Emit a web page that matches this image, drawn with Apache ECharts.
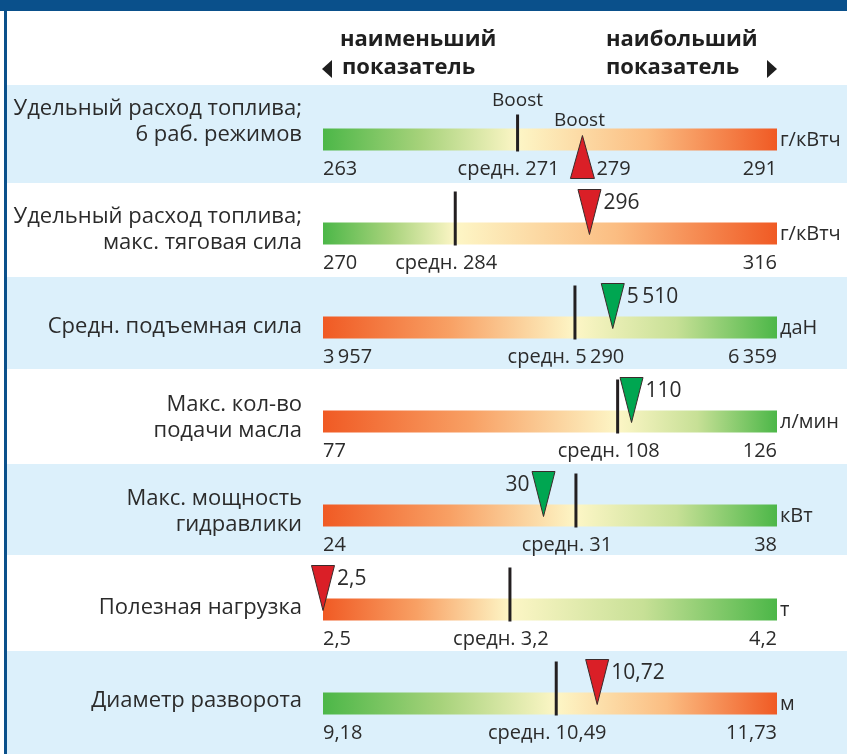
<!DOCTYPE html>
<html><head><meta charset="utf-8">
<script src="https://cdn.jsdelivr.net/npm/echarts@6/dist/echarts.min.js"></script>
<style>html,body{margin:0;padding:0;background:#fff}#c{width:847px;height:754px}</style>
</head><body><div id="c"></div>
<script>
// ---- data ----
const categories = ["Удельный расход топлива;\n6 раб. режимов", "Удельный расход топлива;\nмакс. тяговая сила", "Средн. подъемная сила", "Макс. кол-во\nподачи масла", "Макс. мощность\nгидравлики", "Полезная нагрузка", "Диаметр разворота"];
const units = ["г/кВтч", "г/кВтч", "даН", "л/мин", "кВт", "т", "м"];
const minVals = [263, 270, 3957, 77, 24, 2.5, 9.18];
const maxVals = [291, 316, 6359, 126, 38, 4.2, 11.73];
const avgVals = [271, 284, 5290, 108, 31, 3.2, 10.49];          // printed average
const avgLinePos = [275, 283.4, 5290, 108.8, 31.8, 3.2, 10.49];  // where the average line sits
const markerVals = [279, 296, 5510, 110, 30, 2.5, 10.72];        // printed model value
const markerPos = [279, 297, 5490, 110.3, 30.8, 2.5, 10.72];     // where the triangle sits
const decimals = [0, 0, 0, 0, 0, 1, 2];
const greenLeft = [true, true, false, false, false, false, true];
const markerGood = [false, false, true, true, true, false, false];
const boostLabel = "Boost";
const avgPrefix = "средн. ";
const headerLeft = ["наименьший", "показатель"];
const headerRight = ["наибольший", "показатель"];

// ---- layout / style ----
const FONT = '"Open Sans", "Noto Sans", sans-serif';
const TXT = '#2b2b2b';
const BAR_L = 323, BAR_W = 454, BAR_H = 22;
const rowC = i => 139.5 + 94 * i;
const labelShift = [-18, -4, -1, -4, -4, -2, -3];
const GREEN = '#4cb748', YEL = '#fdf6c6', ORG = '#f05a24';

function fmt(v, d) {
  let s = v.toFixed(d);
  let [ip, fp] = s.split('.');
  ip = ip.replace(/\B(?=(\d{3})+(?!\d))/g, '\u2009');
  return fp ? ip + ',' + fp : ip;
}

const grids = [], xAxes = [], yAxes = [], series = [];
categories.forEach((cat, i) => {
  const c = rowC(i);
  grids.push({ left: BAR_L, width: BAR_W, top: c - BAR_H / 2, height: BAR_H });
  xAxes.push({ gridIndex: i, type: 'value', min: minVals[i], max: maxVals[i], show: false });
  yAxes.push({ gridIndex: i, type: 'value', min: 0, max: 1, show: false });
  series.push({
    type: 'custom', xAxisIndex: i, yAxisIndex: i, clip: false, silent: true,
    encode: { x: [0, 1, 2, 3], y: 4 },
    data: [[minVals[i], maxVals[i], avgLinePos[i], markerPos[i], 0.5]],
    renderItem: function (params, api) {
      const pMin = api.coord([api.value(0), 0]);
      const pMaxT = api.coord([api.value(1), 1]);
      const pAvg = api.coord([api.value(2), 0.5]);
      const pMk = api.coord([api.value(3), 0.5]);
      const xL = pMin[0], xR = pMaxT[0], yT = pMaxT[1], yB = pMin[1];
      const cy = (yT + yB) / 2;
      const f = Math.max(0.02, Math.min(0.98, (pAvg[0] - xL) / (xR - xL)));
      let stops;
      if (greenLeft[i]) {
        stops = [{ offset: 0, color: GREEN }, { offset: f * 0.5, color: '#a6d27a' }, { offset: f, color: YEL },
                 { offset: f + (1 - f) * 0.5, color: '#fbbd82' }, { offset: 1, color: ORG }];
      } else {
        stops = [{ offset: 0, color: ORG }, { offset: f * 0.5, color: '#f8a064' }, { offset: f, color: YEL },
                 { offset: f + (1 - f) * 0.5, color: '#c7e096' }, { offset: 1, color: GREEN }];
      }
      const ch = [];
      ch.push({ type: 'rect', shape: { x: xL, y: yT, width: xR - xL, height: yB - yT },
        style: { fill: new echarts.graphic.LinearGradient(0, 0, 1, 0, stops) } });
      // average line
      const lineTop = i === 0 ? cy - 25 : cy - 42;
      ch.push({ type: 'line', shape: { x1: pAvg[0], y1: lineTop, x2: pAvg[0], y2: yB + 1 },
        style: { stroke: '#231f20', lineWidth: 3 } });
      // marker triangle
      const mx = pMk[0];
      const col = markerGood[i] ? '#00a651' : '#da1f27';
      let pts;
      if (i === 0) pts = [[mx, cy - 4], [mx - 12, cy + 39], [mx + 12, cy + 39]];
      else pts = [[mx - 11.5, cy - 44], [mx + 11.5, cy - 44], [mx, cy + 1]];
      ch.push({ type: 'polygon', shape: { points: pts }, style: { fill: col, stroke: '#3b2b2b', lineWidth: 1 } });
      const txt = (t, x, y, align, size, extra) => Object.assign({ type: 'text', x: x, y: y,
        style: { text: t, fill: TXT, fontSize: size || 20, fontFamily: FONT, align: align, verticalAlign: 'middle' } }, extra || {});
      // bottom labels
      const by = cy + 30;
      ch.push(txt(fmt(minVals[i], decimals[i]), xL, by, 'left'));
      ch.push(txt(fmt(maxVals[i], decimals[i]), xR, by, 'right'));
      ch.push(txt(avgPrefix + fmt(avgVals[i], decimals[i]), pAvg[0] - 9, by, 'center'));
      // unit
      ch.push(txt(units[i], xR + 3, cy + 1, 'left'));
      // value labels
      if (i === 0) {
        ch.push(txt(fmt(markerVals[i], decimals[i]), mx + 14, by, 'left'));
        ch.push(txt(boostLabel, pAvg[0], cy - 39, 'center', 19));
        ch.push(txt(boostLabel, mx - 3, cy - 19, 'center', 19));
      } else if (i === 4) {
        ch.push(txt(fmt(markerVals[i], decimals[i]), mx - 14, cy - 30, 'right', 21));
      } else {
        ch.push(txt(fmt(markerVals[i], decimals[i]), mx + 14, cy - 30, 'left', 21));
      }
      // category label
      const lbl = txt(categories[i], xL - 21, cy + labelShift[i], 'right', 22);
      lbl.style.lineHeight = 26;
      ch.push(lbl);
      return { type: 'group', children: ch };
    }
  });
});

// decorative backgrounds & header
const BLUE = '#dcf0fb', DARK = '#0a508b';
const bands = [[85, 183], [277, 369], [464, 555], [651, 754]];
const graphic = [];
bands.forEach(b => graphic.push({ type: 'rect', z: -10, shape: { x: 6, y: b[0], width: 841, height: b[1] - b[0] }, style: { fill: BLUE } }));
graphic.push({ type: 'rect', z: 10, shape: { x: 0, y: 0, width: 847, height: 11 }, style: { fill: DARK } });
graphic.push({ type: 'rect', z: 10, shape: { x: 4, y: 0, width: 3, height: 754 }, style: { fill: DARK } });
const hdr = (t, x, y) => ({ type: 'text', x: x, y: y, style: { text: t, fill: '#1f1f1f', fontSize: 22, fontWeight: 'bold', fontFamily: FONT, align: 'left', verticalAlign: 'middle' } });
graphic.push(hdr(headerLeft[0], 340, 40));
graphic.push(hdr(headerLeft[1], 342, 68));
graphic.push(hdr(headerRight[0], 606, 40));
graphic.push(hdr(headerRight[1], 606, 68));
graphic.push({ type: 'polygon', shape: { points: [[322, 69], [332, 60], [332, 78]] }, style: { fill: '#1f1f1f' } });
graphic.push({ type: 'polygon', shape: { points: [[777, 69], [767, 60], [767, 78]] }, style: { fill: '#1f1f1f' } });

const chart = echarts.init(document.getElementById('c'), null, { renderer: 'canvas' });
chart.setOption({
  animation: false,
  backgroundColor: '#ffffff',
  grid: grids, xAxis: xAxes, yAxis: yAxes, series: series, graphic: graphic
});
</script></body></html>
